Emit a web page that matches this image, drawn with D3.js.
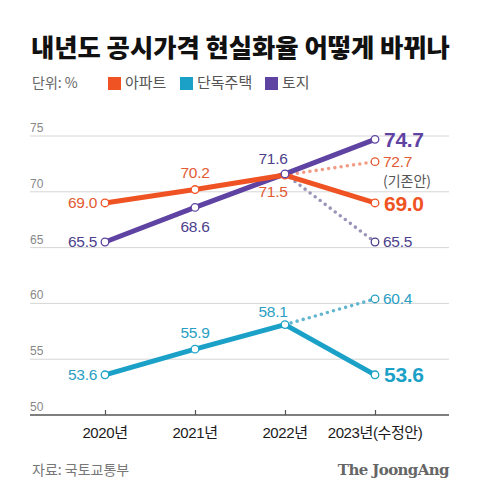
<!DOCTYPE html>
<html>
<head>
<meta charset="utf-8">
<script src="https://cdn.jsdelivr.net/npm/d3@7"></script>
<style>
  body { margin: 0; background: #fff; }
  svg { display: block; }
</style>
</head>
<body>
<div id="chart"></div>
<script>
// values
const years = ['2020년', '2021년', '2022년', '2023년(수정안)'];
const aptValues = [69.0, 70.2, 71.5, 69.0];
const houseValues = [53.6, 55.9, 58.1, 53.6];
const landValues = [65.5, 68.6, 71.6, 74.7];
// 2023 values from the old plan (dotted)
const aptOld = 72.7;
const houseOld = 60.4;
const landOld = 65.5;
const yTicks = [50, 55, 60, 65, 70, 75];

const W = 480, H = 499;
const numFont = '"Liberation Sans", Arial, "Noto Sans CJK KR", sans-serif';
const korFont = '"Noto Sans CJK KR", "Noto Sans", sans-serif';

const svg = d3.select('#chart').append('svg')
  .attr('width', W).attr('height', H);

const x = d3.scalePoint().domain(years).range([105, 375]);
const y = d3.scaleLinear().domain([50, 75]).range([415, 136]);

// title
svg.append('text')
  .attr('x', 31).attr('y', 57)
  .attr('font-family', korFont)
  .attr('font-weight', 900)
  .attr('font-size', 25.3)
  .attr('fill', '#111')
  .text('내년도 공시가격 현실화율 어떻게 바뀌나');

// unit + legend
svg.append('text')
  .attr('x', 32).attr('y', 88)
  .attr('font-family', korFont).attr('font-size', 14)
  .attr('fill', '#666')
  .text('단위: %');

const series = [
  { name: '아파트', color: '#ef5323', dot: '#f29c86', text: '#e35a32', vals: aptValues, old: aptOld, lx: 108 },
  { name: '단독주택', color: '#1ba1c8', dot: '#62b6cf', text: '#2a9ec2', vals: houseValues, old: houseOld, lx: 180 },
  { name: '토지', color: '#5f43a3', dot: '#9a94b8', text: '#4d3f8c', vals: landValues, old: landOld, lx: 265 }
];

series.forEach(s => {
  svg.append('rect')
    .attr('x', s.lx).attr('y', 77).attr('width', 13).attr('height', 13)
    .attr('fill', s.color);
  svg.append('text')
    .attr('x', s.lx + 17).attr('y', 88)
    .attr('font-family', korFont).attr('font-size', 15)
    .attr('fill', '#555')
    .text(s.name);
});

// grid
svg.append('g').selectAll('line')
  .data(yTicks.filter(d => d > 50))
  .join('line')
  .attr('x1', 30).attr('x2', 449)
  .attr('y1', d => y(d)).attr('y2', d => y(d))
  .attr('stroke', '#d6d6d6').attr('stroke-width', 1);

svg.append('g').selectAll('text')
  .data(yTicks)
  .join('text')
  .attr('x', 30).attr('y', d => y(d) - 4)
  .attr('font-family', numFont).attr('font-size', 12)
  .attr('fill', '#888')
  .text(d => d);

// x axis
const xAxis = svg.append('g')
  .attr('transform', `translate(0,${y(50)})`)
  .call(d3.axisTop(x).tickSize(5).tickFormat(''));
xAxis.select('.domain').remove();
xAxis.selectAll('.tick line').attr('stroke', '#555').attr('stroke-width', 1.2);
svg.append('line')
  .attr('x1', 30).attr('x2', 449)
  .attr('y1', y(50)).attr('y2', y(50))
  .attr('stroke', '#555').attr('stroke-width', 1.5);

svg.append('g').selectAll('text')
  .data(years)
  .join('text')
  .attr('x', d => x(d)).attr('y', 438)
  .attr('text-anchor', 'middle')
  .attr('font-family', numFont).attr('font-size', 15)
  .attr('letter-spacing', -0.4)
  .attr('fill', '#1a1a1a')
  .text(d => d);

const line = d3.line().x(d => x(d[0])).y(d => y(d[1]));

// dotted old-plan segments
series.forEach(s => {
  svg.append('path')
    .attr('d', line([[years[2], s.vals[2]], [years[3], s.old]]))
    .attr('fill', 'none')
    .attr('stroke', s.dot)
    .attr('stroke-width', 3.6)
    .attr('stroke-linecap', 'round')
    .attr('stroke-dasharray', '0 6.3');
});

// solid lines, drawn cyan, purple, orange
[series[1], series[2], series[0]].forEach(s => {
  svg.append('path')
    .datum(years.map((yr, i) => [yr, s.vals[i]]))
    .attr('d', line)
    .attr('fill', 'none')
    .attr('stroke', s.color)
    .attr('stroke-width', 5)
    .attr('stroke-linejoin', 'round');
});

// points
series.forEach(s => {
  const pts = years.map((yr, i) => [yr, s.vals[i], s.color]);
  pts.push([years[3], s.old, s.dot]);
  svg.append('g').selectAll('circle')
    .data(pts)
    .join('circle')
    .attr('cx', d => x(d[0])).attr('cy', d => y(d[1]))
    .attr('r', 3.8)
    .attr('fill', '#fff')
    .attr('stroke', d => d[2] === s.dot ? s.text : s.color)
    .attr('stroke-width', 1.3);
});

// value labels: [dx, dy, anchor] per point
const labelPos = {
  '아파트': [[-8, 0, 'end'], [0, -17, 'middle'], [-12, 17, 'middle']],
  '단독주택': [[-8, 0, 'end'], [0, -17, 'middle'], [-12, -13, 'middle']],
  '토지': [[-8, 0, 'end'], [0, 19, 'middle'], [-12, -15, 'middle']]
};
const fmt = d3.format('.1f');

series.forEach(s => {
  const pos = labelPos[s.name];
  svg.append('g').selectAll('text')
    .data(s.vals.slice(0, 3))
    .join('text')
    .attr('x', (d, i) => x(years[i]) + pos[i][0])
    .attr('y', (d, i) => y(d) + pos[i][1])
    .attr('dy', '0.35em')
    .attr('text-anchor', (d, i) => pos[i][2])
    .attr('font-family', numFont).attr('font-size', 15.5)
    .attr('letter-spacing', -0.3)
    .attr('fill', s.text)
    .text(fmt);

  // 2023 revised (bold)
  svg.append('text')
    .attr('x', x(years[3]) + 9).attr('y', y(s.vals[3]))
    .attr('dy', '0.36em')
    .attr('font-family', numFont).attr('font-size', 21)
    .attr('font-weight', 'bold')
    .attr('letter-spacing', -0.3)
    .attr('fill', s.color)
    .text(fmt(s.vals[3]));

  // 2023 old plan
  svg.append('text')
    .attr('x', x(years[3]) + 8).attr('y', y(s.old))
    .attr('dy', '0.35em')
    .attr('font-family', numFont).attr('font-size', 15.5)
    .attr('letter-spacing', -0.3)
    .attr('fill', s.text)
    .text(fmt(s.old));
});

svg.append('text')
  .attr('x', x(years[3]) + 8).attr('y', y(aptOld) + 19)
  .attr('dy', '0.35em')
  .attr('font-family', korFont).attr('font-size', 14)
  .attr('fill', '#555')
  .text('(기존안)');

// footer
svg.append('text')
  .attr('x', 32).attr('y', 475)
  .attr('font-family', korFont).attr('font-size', 14)
  .attr('fill', '#777')
  .text('자료: 국토교통부');

svg.append('text')
  .attr('x', 449).attr('y', 475)
  .attr('text-anchor', 'end')
  .attr('font-family', '"DejaVu Serif", "Liberation Serif", serif')
  .attr('font-weight', 'bold')
  .attr('font-size', 15)
  .attr('letter-spacing', -0.6)
  .attr('fill', '#666')
  .text('The JoongAng');
</script>
</body>
</html>
